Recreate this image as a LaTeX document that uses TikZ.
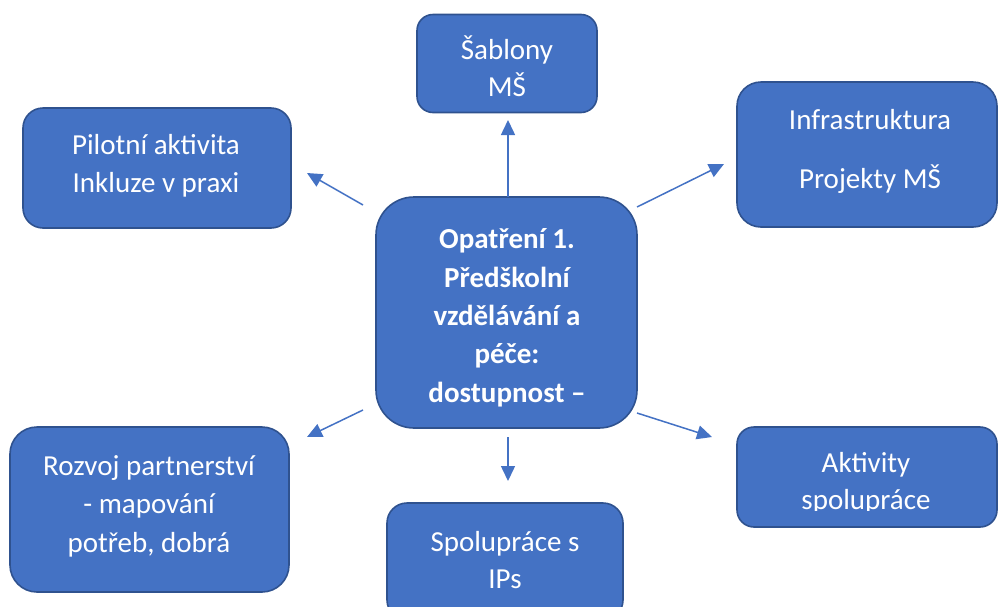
\documentclass[tikz,border=0pt]{standalone}
\usepackage{fontspec}
\setmainfont{Carlito}
\usetikzlibrary{arrows.meta}
\definecolor{boxfill}{HTML}{4472C4}
\definecolor{boxline}{HTML}{2F528F}
\definecolor{arrcol}{HTML}{4472C4}
\tikzset{
  box/.style={draw=boxline, fill=boxfill, line width=1.6pt, rectangle, inner sep=0pt},
  lbl/.style={text=white, anchor=base, inner sep=0pt, font=\fontsize{29}{35}\selectfont},
  blbl/.style={lbl, font=\fontsize{29}{35}\selectfont\bfseries},
  conn/.style={draw=arrcol, line width=1.5pt, -{Triangle[length=15pt,width=14pt]}}
}
\begin{document}
\begin{tikzpicture}[x=1pt,y=-1pt]
\useasboundingbox (0,0) rectangle (998,606);
\clip (0,0) rectangle (998,606);

% boxes
\node[box, minimum width=180pt, minimum height=98pt, rounded corners=16pt] (sab) at (507,63.5) {};
\node[box, minimum width=260pt, minimum height=145pt, rounded corners=24pt] (inf) at (867,154.5) {};
\node[box, minimum width=268pt, minimum height=120pt, rounded corners=20pt] (pil) at (157,168) {};
\node[box, minimum width=261pt, minimum height=231pt, rounded corners=38pt] (cen) at (506.5,312.5) {};
\node[box, minimum width=279pt, minimum height=165pt, rounded corners=27pt] (roz) at (149.5,509.5) {};
\node[box, minimum width=236pt, minimum height=117pt, rounded corners=20pt] (ips) at (505,561.5) {};
\node[box, minimum width=260pt, minimum height=100pt, rounded corners=17pt] (akt) at (867,477) {};

% texts
\node[lbl] (sab1) at (507,59) {Šablony};
\node[lbl] (sab2) at (507,96) {MŠ};
\node[lbl] (inf1) at (870,129) {Infrastruktura};
\node[lbl] (inf2) at (870,188) {Projekty MŠ};
\node[lbl] (pil1) at (156,154) {Pilotní aktivita};
\node[lbl] (pil2) at (156,192) {Inkluze v praxi};
\node[blbl] (cen1) at (507,248) {Opatření 1.};
\node[blbl] (cen2) at (507,287) {Předškolní};
\node[blbl] (cen3) at (507,325) {vzdělávání a};
\node[blbl] (cen4) at (507,363) {péče:};
\node[blbl] (cen5) at (507,402) {dostupnost –};
\node[lbl] (roz1) at (149,475) {Rozvoj partnerství};
\node[lbl] (roz2) at (149,513) {- mapování};
\node[lbl] (roz3) at (149,552) {potřeb, dobrá};
\node[lbl] (ips1) at (505,551) {Spolupráce s};
\node[lbl] (ips2) at (505,588) {IPs};
\node[lbl] (akt1) at (866,472) {Aktivity};
\begin{scope}
  \clip (737,427) rectangle (997,510);
  \node[lbl] (akt2) at (866,509) {spolupráce};
\end{scope}

% connector endpoints
\coordinate (cUp) at (508,197);
\coordinate (tUp) at (508,120);
\coordinate (cUR) at (637,207);
\coordinate (tUR) at (724,164);
\coordinate (cUL) at (363,205);
\coordinate (tUL) at (307,173);
\coordinate (cLL) at (363,410);
\coordinate (tLL) at (307,437);
\coordinate (cLR) at (637,413);
\coordinate (tLR) at (712,437);
\coordinate (cDn) at (508,437);
\coordinate (tDn) at (508,481);

\draw[conn] (cUp) -- (tUp);
\draw[conn] (cUR) -- (tUR);
\draw[conn] (cUL) -- (tUL);
\draw[conn] (cLL) -- (tLL);
\draw[conn] (cLR) -- (tLR);
\draw[conn] (cDn) -- (tDn);
\end{tikzpicture}
\end{document}
